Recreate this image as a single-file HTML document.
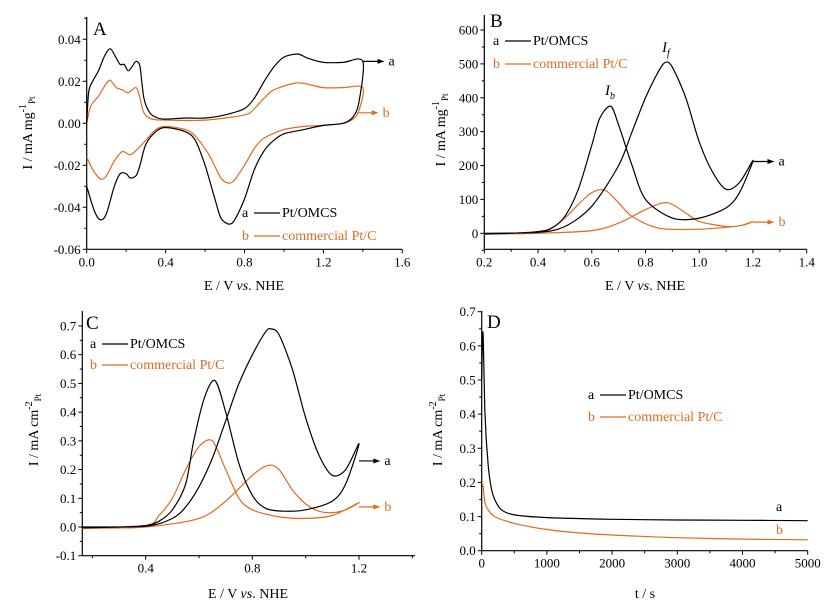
<!DOCTYPE html>
<html><head><meta charset="utf-8"><style>
body{margin:0;background:#fff}
svg{display:block;font-family:"Liberation Serif",serif}
</style></head><body>
<svg id="fig" width="837" height="607" viewBox="0 0 837 607"></svg>
<script>
// ---- Panel A data (CV, mA mg-1) ----
const aBlackE=[0,0.01,0.03,0.06,0.09,0.12,0.15,0.17,0.19,0.21,0.23,0.25,0.27,0.29,0.32,0.36,0.4,0.5,0.6,0.7,0.8,0.85,0.9,0.95,1.0,1.07,1.12,1.2,1.3,1.4,1.38,1.35,1.3,1.2,1.1,1.0,0.95,0.9,0.85,0.8,0.75,0.72,0.68,0.65,0.6,0.55,0.5,0.4,0.35,0.3,0.27,0.25,0.22,0.2,0.17,0.14,0.1,0.07,0.04,0.0];
const aBlackI=[0,0.015,0.02,0.025,0.032,0.0355,0.031,0.028,0.028,0.025,0.027,0.0295,0.027,0.012,0.005,0.0025,0.002,0.0025,0.0025,0.004,0.007,0.012,0.02,0.027,0.0315,0.033,0.031,0.029,0.029,0.0295,0.01,0.003,0.0,-0.001,-0.003,-0.005,-0.008,-0.013,-0.022,-0.036,-0.046,-0.048,-0.045,-0.036,-0.02,-0.008,-0.004,-0.002,-0.004,-0.01,-0.02,-0.025,-0.026,-0.024,-0.024,-0.03,-0.043,-0.046,-0.042,-0.03];
const aOrangeE=[0,0.02,0.06,0.1,0.12,0.15,0.18,0.21,0.25,0.27,0.29,0.33,0.4,0.6,0.8,0.85,0.9,0.95,1.05,1.1,1.2,1.3,1.4,1.38,1.35,1.3,1.2,1.1,1.0,0.9,0.85,0.8,0.75,0.72,0.68,0.62,0.55,0.5,0.4,0.35,0.3,0.25,0.22,0.18,0.14,0.1,0.07,0.03,0];
const aOrangeI=[0,0.008,0.013,0.019,0.0205,0.017,0.016,0.0145,0.017,0.012,0.005,0.002,0.0015,0.0015,0.004,0.007,0.012,0.016,0.019,0.019,0.017,0.017,0.017,0.006,0.002,0.0,-0.001,-0.0015,-0.003,-0.007,-0.012,-0.02,-0.027,-0.0285,-0.026,-0.015,-0.006,-0.003,-0.0015,-0.003,-0.008,-0.013,-0.015,-0.0135,-0.018,-0.025,-0.0265,-0.022,-0.016];
// ---- Panel B data (mA mg-1) ----
const bBlackE=[0.2,0.4,0.5,0.6,0.7,0.75,0.8,0.85,0.875,0.9,0.95,1.0,1.05,1.1,1.15,1.2,1.15,1.1,1.0,0.9,0.8,0.75,0.7,0.67,0.63,0.6,0.55,0.5,0.45,0.4,0.3,0.2];
const bBlackI=[0,3,20,80,200,300,400,480,505,490,400,270,180,130,150,215,120,75,45,45,100,200,320,375,340,260,130,50,15,5,0,-2];
const bOrangeE=[0.2,0.4,0.6,0.7,0.8,0.865,0.9,0.95,1.0,1.1,1.15,1.2,1.15,1.0,0.85,0.75,0.7,0.65,0.6,0.55,0.5,0.45,0.4,0.3,0.2];
const bOrangeI=[-2,0,8,30,70,90,85,60,35,20,22,35,22,12,15,50,90,127,120,85,45,15,3,0,-2];
// ---- Panel C data (mA cm-2) ----
const cBlackE=[0.16,0.4,0.5,0.55,0.6,0.65,0.7,0.75,0.8,0.85,0.87,0.9,0.95,1.0,1.05,1.1,1.15,1.2,1.15,1.1,1.0,0.92,0.85,0.8,0.75,0.7,0.66,0.62,0.58,0.55,0.5,0.45,0.4,0.3,0.16];
const cBlackI=[0,0.003,0.03,0.07,0.14,0.24,0.37,0.5,0.6,0.68,0.69,0.67,0.55,0.38,0.25,0.18,0.2,0.29,0.15,0.09,0.06,0.055,0.065,0.11,0.22,0.4,0.51,0.45,0.3,0.15,0.06,0.02,0.005,0,-0.003];
const cOrangeE=[0.16,0.4,0.6,0.7,0.8,0.86,0.9,0.95,1.0,1.05,1.1,1.15,1.2,1.1,1.0,0.9,0.8,0.75,0.7,0.65,0.6,0.55,0.5,0.45,0.4,0.16];
const cOrangeI=[-0.005,0.0,0.03,0.09,0.18,0.215,0.2,0.13,0.08,0.055,0.05,0.06,0.085,0.04,0.03,0.035,0.06,0.1,0.2,0.3,0.28,0.2,0.1,0.04,0.005,-0.005];
// ---- Panel D data (chronoamperometry) ----
const dTime=[0,20,50,100,150,200,300,500,1000,2000,3000,4000,5000];
const dBlackI=[0.5,0.64,0.4,0.25,0.18,0.15,0.12,0.105,0.097,0.092,0.09,0.089,0.088];
const dTimeO=[0,20,50,100,200,500,1000,1500,2000,3000,4000,5000];
const dOrangeI=[0.2,0.19,0.14,0.12,0.1,0.08,0.062,0.052,0.046,0.038,0.034,0.032];

const NS="http://www.w3.org/2000/svg";
const svg=document.getElementById('fig');
const OR="#e06a22";
const TK=13, TT=14, LG=14;
function el(tag,attrs,parent){const e=document.createElementNS(NS,tag);for(const k in attrs)e.setAttribute(k,attrs[k]);(parent||svg).appendChild(e);return e;}
function lin(d0,d1,p0,p1){return v=>p0+(v-d0)*(p1-p0)/(d1-d0);}
function spline(xs,ys,sx,sy){
  const P=xs.map((x,i)=>[sx(x),sy(ys[i])]);let d="M"+P[0][0].toFixed(1)+","+P[0][1].toFixed(1);
  for(let i=0;i<P.length-1;i++){const p0=P[i-1]||P[i],p1=P[i],p2=P[i+1],p3=P[i+2]||p2;const t=0.15;
    d+=" C"+(p1[0]+(p2[0]-p0[0])*t).toFixed(1)+","+(p1[1]+(p2[1]-p0[1])*t).toFixed(1)+" "+(p2[0]-(p3[0]-p1[0])*t).toFixed(1)+","+(p2[1]-(p3[1]-p1[1])*t).toFixed(1)+" "+p2[0].toFixed(1)+","+p2[1].toFixed(1);}
  return d;}
function axes(g,cfg){
  const {L,R,T,B,sx,sy,xt,xl,xm,yt,yl,ym}=cfg;
  el('line',{x1:L,y1:T,x2:L,y2:B,stroke:'#000','stroke-width':1.2},g);
  el('line',{x1:L,y1:B,x2:R,y2:B,stroke:'#000','stroke-width':1.2},g);
  xt.forEach((v,i)=>{const x=sx(v);el('line',{x1:x,y1:B,x2:x,y2:B+4,stroke:'#000'},g);
    const t=el('text',{x:x,y:B+17,'font-size':TK,'text-anchor':'middle'},g);t.textContent=xl[i];
    });
  xm.forEach(v=>{const x=sx(v);el('line',{x1:x,y1:B,x2:x,y2:B+2.5,stroke:'#000'},g);});
  yt.forEach((v,i)=>{const y=sy(v);el('line',{x1:L-4,y1:y,x2:L,y2:y,stroke:'#000'},g);
    const t=el('text',{x:L-6,y:y+4.5,'font-size':TK,'text-anchor':'end'},g);t.textContent=yl[i];
    });
  ym.forEach(v=>{const y=sy(v);el('line',{x1:L-2.5,y1:y,x2:L,y2:y,stroke:'#000'},g);});
}
function curve(g,xs,ys,sx,sy,color,name){const p=el('path',{d:spline(xs,ys,sx,sy),fill:'none',stroke:color,'stroke-width':1.2},g);
  }
function txt(g,x,y,s,opts,name){const t=el('text',Object.assign({x:x,y:y,'font-size':LG},opts||{}),g);t.innerHTML=s;
  return t;}
function legend(g,x,y,gap){
  txt(g,x,y,'a',{},'legend-a-label');el('line',{x1:x+12,y1:y-4,x2:x+38,y2:y-4,stroke:'#000','stroke-width':1.2},g);
  txt(g,x+40,y,'Pt/OMCS',{},'legend-a-text');
  txt(g,x,y+gap,'b',{fill:OR},'legend-b-label');el('line',{x1:x+12,y1:y+gap-4,x2:x+38,y2:y+gap-4,stroke:OR,'stroke-width':1.2},g);
  txt(g,x+40,y+gap,'commercial Pt/C',{fill:OR},'legend-b-text');}
function arrow(g,x1,y,x2,color,label,name){el('line',{x1:x1,y1:y,x2:x2-5,y2:y,stroke:color,'stroke-width':1.2},g);
  el('polygon',{points:`${x2},${y} ${x2-7},${y-2.5} ${x2-7},${y+2.5}`,fill:color},g);
  txt(g,x2+4,y+4,label,{fill:color},name);}
function ytitle(g,x,y,main,sup,sub){const t=el('text',{transform:`translate(${x},${y}) rotate(-90)`,'font-size':TT,'text-anchor':'middle'},g);
  t.innerHTML=main+'<tspan dy="-6" font-size="10">'+sup+'</tspan><tspan dy="9" font-size="9">'+sub+'</tspan>';
  }
function group(name){const g=el('g',{});return g;}

// Panel A
(function(){const g=group('panel-a');const L=86.7,R=402.3,T=17,B=249.3;
 const sx=lin(0,1.6,L,R),sy=lin(0.04,-0.06,39.3,249.3);
 axes(g,{L,R,T,B,sx,sy,xt:[0,0.4,0.8,1.2,1.6],xl:['0.0','0.4','0.8','1.2','1.6'],xm:[0.2,0.6,1.0,1.4],
  yt:[0.04,0.02,0,-0.02,-0.04,-0.06],yl:['0.04','0.02','0.00','-0.02','-0.04','-0.06'],ym:[0.05,0.03,0.01,-0.01,-0.03,-0.05]});
 curve(g,aOrangeE,aOrangeI,sx,sy,OR,'curve-a-commercial');curve(g,aBlackE,aBlackI,sx,sy,'#000','curve-a-omcs');
 txt(g,93,35,'A',{'font-size':19},'panel-label-a');
 arrow(g,sx(1.4),sy(0.0295),sx(1.51),'#000','a','arrow-label-a');
 arrow(g,sx(1.37),sy(0.005),sx(1.48),OR,'b','arrow-label-b');
 legend(g,242,217,23);
 txt(g,244,290,'E / V <tspan font-style="italic">vs</tspan>. NHE',{'text-anchor':'middle','font-size':TT},'x-axis-title');
 ytitle(g,32,133,'I / mA mg','-1','Pt');})();
// Panel B
(function(){const g=group('panel-b');const L=484.3,R=806.7,T=15,B=249.3;
 const sx=lin(0.2,1.4,L,R),sy=lin(600,0,30,233.3);
 axes(g,{L,R,T,B,sx,sy,xt:[0.2,0.4,0.6,0.8,1.0,1.2,1.4],xl:['0.2','0.4','0.6','0.8','1.0','1.2','1.4'],xm:[0.3,0.5,0.7,0.9,1.1,1.3],
  yt:[600,500,400,300,200,100,0],yl:['600','500','400','300','200','100','0'],ym:[550,450,350,250,150,50,-50]});
 curve(g,bOrangeE,bOrangeI,sx,sy,OR,'curve-b-commercial');curve(g,bBlackE,bBlackI,sx,sy,'#000','curve-b-omcs');
 txt(g,490,27,'B',{'font-size':19},'panel-label-b');
 legend(g,493,45,23);
 txt(g,662,52,'I<tspan dy="4" font-size="10">f</tspan>',{'font-style':'italic','font-size':15},'peak-label-if');
 txt(g,605,95,'I<tspan dy="4" font-size="10">b</tspan>',{'font-style':'italic','font-size':15},'peak-label-ib');
 arrow(g,sx(1.2),sy(212),sx(1.28),'#000','a','arrow-label-a');
 arrow(g,sx(1.2),sy(33),sx(1.28),OR,'b','arrow-label-b');
 txt(g,645,290,'E / V <tspan font-style="italic">vs</tspan>. NHE',{'text-anchor':'middle','font-size':TT},'x-axis-title');
 ytitle(g,445,130,'I / mA mg','-1','Pt');})();
// Panel C
(function(){const g=group('panel-c');const L=82.3,R=415,T=311,B=555.7;
 const sx=lin(0.4,1.2,145.7,359),sy=lin(0.7,-0.1,326,555.7);
 axes(g,{L,R,T,B,sx,sy,xt:[0.4,0.8,1.2],xl:['0.4','0.8','1.2'],xm:[0.2,0.6,1.0,1.4].filter(v=>sx(v)>=L&&sx(v)<=R),
  yt:[0.7,0.6,0.5,0.4,0.3,0.2,0.1,0,-0.1],yl:['0.7','0.6','0.5','0.4','0.3','0.2','0.1','0.0','-0.1'],ym:[0.65,0.55,0.45,0.35,0.25,0.15,0.05,-0.05]});
 curve(g,cOrangeE,cOrangeI,sx,sy,OR,'curve-c-commercial');curve(g,cBlackE,cBlackI,sx,sy,'#000','curve-c-omcs');
 txt(g,86,329,'C',{'font-size':19},'panel-label-c');
 legend(g,90,348,21);
 arrow(g,sx(1.2),sy(0.23),sx(1.28),'#000','a','arrow-label-a');
 arrow(g,sx(1.2),sy(0.07),sx(1.28),OR,'b','arrow-label-b');
 txt(g,248,598,'E / V <tspan font-style="italic">vs</tspan>. NHE',{'text-anchor':'middle','font-size':TT},'x-axis-title');
 ytitle(g,38,430,'I / mA cm','-2','Pt');})();
// Panel D
(function(){const g=group('panel-d');const L=481.7,R=807.7,T=311,B=550.7;
 const sx=lin(0,5000,L,R),sy=lin(0.7,0,311.7,550.7);
 axes(g,{L,R,T,B,sx,sy,xt:[0,1000,2000,3000,4000,5000],xl:['0','1000','2000','3000','4000','5000'],xm:[500,1500,2500,3500,4500],
  yt:[0.7,0.6,0.5,0.4,0.3,0.2,0.1,0],yl:['0.7','0.6','0.5','0.4','0.3','0.2','0.1','0.0'],ym:[0.65,0.55,0.45,0.35,0.25,0.15,0.05]});
 curve(g,dTimeO,dOrangeI,sx,sy,OR,'curve-d-commercial');curve(g,dTime,dBlackI,sx,sy,'#000','curve-d-omcs');
 txt(g,487,328,'D',{'font-size':19},'panel-label-d');
 legend(g,588,399,22);
 txt(g,776,511,'a',{},'series-label-a');
 txt(g,776,534,'b',{fill:OR},'series-label-b');
 txt(g,645,598,'t / s',{'text-anchor':'middle','font-size':TT},'x-axis-title');
 ytitle(g,442,430,'I / mA cm','-2','Pt');})();
</script>
</body></html>
